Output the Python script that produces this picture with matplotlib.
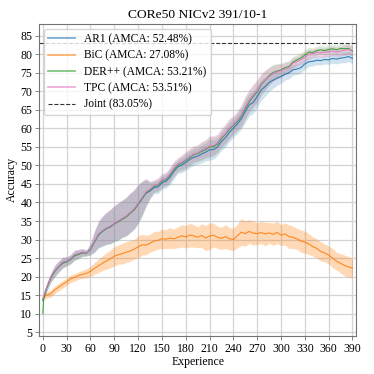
import matplotlib
matplotlib.use("Agg")
import numpy as np
from matplotlib import pyplot as plt

# 字体/样式
plt.rcParams.update({
    "font.family": "serif",
    "font.serif": ["Liberation Serif", "DejaVu Serif"],
    "font.size": 8.5,
    "axes.titlesize": 9.7,
    "axes.labelsize": 8.5,
    "xtick.labelsize": 8.5,
    "ytick.labelsize": 8.5,
    "legend.fontsize": 8.3,
})

# 数据
experience = [0, 1, 3] + list(range(5, 391, 5))

tpc = [14.0, 14.8, 16.0,
       17.2, 19.8, 21.6, 22.8, 23.9, 24.2, 24.8, 25.9, 26.2, 26.6,
       26.4, 27.5, 29.5, 31.5, 32.4, 33.1, 33.6, 34.4, 35.0, 35.7,
       36.3, 37.3, 38.3, 39.8, 41.3, 42.9, 43.6, 44.6, 44.9, 46.1,
       46.4, 47.6, 49.2, 50.4, 50.9, 51.6, 52.4, 53.1, 53.4, 54.1,
       54.6, 55.2, 55.4, 56.1, 57.6, 58.6, 60.1, 61.0, 62.2, 63.6,
       65.8, 67.6, 69.0, 70.2, 72.1, 73.1, 74.0, 74.8, 75.3, 75.6,
       76.1, 76.4, 77.6, 78.0, 78.6, 79.2, 80.0, 80.2, 80.5, 80.4,
       80.6, 80.7, 80.9, 80.6, 80.9, 81.1, 81.3, 81.0]

der = [10.0, 14.0, 15.6,
       17.0, 19.6, 21.4, 22.6, 23.6, 24.0, 24.6, 25.6, 26.0, 26.4,
       26.3, 27.3, 29.3, 31.2, 32.2, 32.9, 33.4, 34.2, 34.8, 35.5,
       36.1, 37.1, 38.0, 39.5, 41.0, 42.7, 43.4, 44.3, 44.7, 45.8,
       46.2, 47.3, 48.9, 50.1, 50.6, 51.4, 52.1, 52.9, 53.2, 53.8,
       54.3, 55.0, 55.1, 55.8, 57.3, 58.4, 59.8, 60.8, 61.9, 63.3,
       65.4, 67.2, 68.6, 69.9, 71.8, 73.0, 74.2, 75.1, 75.5, 75.8,
       76.4, 76.7, 77.9, 78.5, 79.0, 79.8, 80.6, 80.5, 81.0, 81.2,
       81.0, 81.3, 81.5, 81.2, 81.6, 81.5, 81.6, 80.8]

ar1 = [13.5, 14.5, 15.8,
       17.1, 19.7, 21.5, 22.7, 23.8, 24.1, 24.7, 25.8, 26.1, 26.5,
       26.4, 27.4, 29.4, 31.3, 32.2, 33.0, 33.5, 34.3, 34.9, 35.6,
       36.2, 37.2, 38.1, 39.6, 41.0, 42.5, 43.1, 44.0, 44.2, 45.3,
       45.7, 46.8, 48.4, 49.6, 50.1, 50.8, 51.6, 52.2, 52.5, 53.1,
       53.6, 54.2, 54.3, 55.0, 56.5, 57.5, 59.0, 60.0, 61.2, 62.6,
       64.6, 66.4, 67.0, 68.6, 70.4, 71.3, 72.4, 73.0, 73.6, 74.0,
       74.6, 75.0, 75.8, 76.0, 76.4, 77.4, 78.0, 78.1, 78.4, 78.3,
       78.6, 78.5, 78.9, 78.7, 79.0, 79.1, 79.4, 78.9]

bic = [14.0, 14.3, 14.8,
       15.0, 15.4, 16.4, 17.2, 17.9, 18.6, 19.4, 19.8, 20.3, 20.6,
       20.9, 21.4, 22.2, 22.9, 23.6, 24.2, 24.8, 25.5, 25.9, 26.2,
       26.6, 26.9, 27.4, 28.0, 28.6, 28.5, 29.0, 29.6, 29.8, 30.2,
       30.1, 30.4, 30.2, 30.6, 31.0, 30.7, 31.2, 31.0, 30.6, 31.1,
       30.4, 30.9, 31.2, 30.6, 30.3, 30.8, 30.2, 30.0, 31.0, 32.0,
       31.6, 32.2, 31.7, 31.6, 31.9, 31.5, 31.8, 31.4, 31.9, 31.2,
       31.5, 30.8, 30.6, 30.2, 29.6, 29.3, 28.8, 28.1, 27.6, 26.8,
       26.4, 25.8, 25.0, 24.1, 23.6, 23.0, 22.6, 22.3]

main_std = [0.5, 0.5, 0.8,
            1.0, 1.2, 1.5, 1.5, 1.4, 1.2, 1.2, 1.3, 1.2, 1.0,
            0.8, 1.5, 2.8, 3.5, 4.0, 4.3, 4.6, 4.8, 5.0, 5.0,
            5.2, 5.3, 5.3, 5.2, 4.6, 3.6, 2.2, 1.6, 1.8, 1.8,
            1.8, 2.0, 2.0, 1.8, 2.0, 2.2, 2.2, 2.2, 2.2, 2.4,
            2.4, 2.8, 2.6, 2.4, 2.4, 2.6, 2.6, 2.4, 2.6, 2.8,
            3.0, 3.0, 3.0, 3.0, 2.8, 2.6, 2.4, 2.2, 2.0, 1.8,
            1.6, 1.6, 1.5, 1.4, 1.4, 1.4, 1.3, 1.2, 1.2, 1.2,
            1.2, 1.2, 1.3, 1.3, 1.3, 1.4, 1.4, 1.4]

bic_std = [0.5, 0.6, 0.8,
           0.8, 1.0, 1.0, 1.0, 1.0, 1.0, 1.0, 1.0, 1.0, 1.1,
           1.2, 1.4, 1.6, 1.8, 2.0, 2.2, 2.4, 2.6, 2.6, 2.8,
           2.8, 2.8, 2.6, 3.0, 2.8, 2.6, 2.4, 2.6, 2.4, 2.6,
           2.6, 2.8, 2.6, 2.8, 3.0, 3.0, 3.2, 3.0, 2.8, 3.2,
           3.4, 3.6, 3.2, 3.0, 3.0, 3.2, 3.0, 3.0, 3.2, 3.6,
           3.4, 3.2, 3.2, 3.0, 3.0, 3.2, 2.8, 3.0, 3.0, 2.8,
           3.0, 3.2, 3.0, 2.8, 3.0, 3.0, 2.8, 2.6, 2.6, 2.6,
           2.4, 2.4, 2.6, 2.4, 2.6, 2.8, 2.8, 2.6]

joint = 83.05

series = [
    ("AR1 (AMCA: 52.48%)", ar1, main_std, "#1f77b4", 0.2),
    ("BiC (AMCA: 27.08%)", bic, bic_std, "#ff7f0e", 0.3),
    ("DER++ (AMCA: 53.21%)", der, main_std, "#2ca02c", 0.18),
    ("TPC (AMCA: 53.51%)", tpc, main_std, "#e377c2", 0.28),
]

fig = plt.figure(figsize=(3.74, 3.74), dpi=100)
ax = fig.add_axes([0.105, 0.102, 0.847, 0.834])

x = np.array(experience)
for label, mean, std, color, a in series:
    mean = np.array(mean)
    std = np.array(std)
    ax.fill_between(x, mean - std, mean + std, color=color, alpha=a, lw=0)
    ax.plot(x, mean, color=color, lw=0.8, alpha=0.9, label=label)

ax.axhline(joint, color="black", ls="--", lw=0.8, alpha=0.8,
           label="Joint (%.2f%%)" % joint)

ax.set_xlim(-4.5, 394.5)
ax.set_ylim(4, 88.2)
ax.set_xticks(range(0, 391, 30))
ax.set_yticks(range(5, 86, 5))
ax.grid(True, color="#d3d3d3", lw=0.9)
ax.set_axisbelow(True)
for s in ax.spines.values():
    s.set_color("0.45")
ax.tick_params(colors="black", length=3, width=0.6, pad=2)
ax.tick_params(axis="both", color="0.45")

ax.set_title("CORe50 NICv2 391/10-1", pad=4)
ax.set_xlabel("Experience", labelpad=1)
ax.set_ylabel("Accuracy", labelpad=2)
leg = ax.legend(loc="upper left", handlelength=2.3, fancybox=True,
                framealpha=0.8, borderaxespad=0.4, labelspacing=0.38)
for line in leg.get_lines()[:4]:
    line.set_linewidth(1.3)
    line.set_alpha(0.6)

plt.savefig("out.png", dpi=100)
